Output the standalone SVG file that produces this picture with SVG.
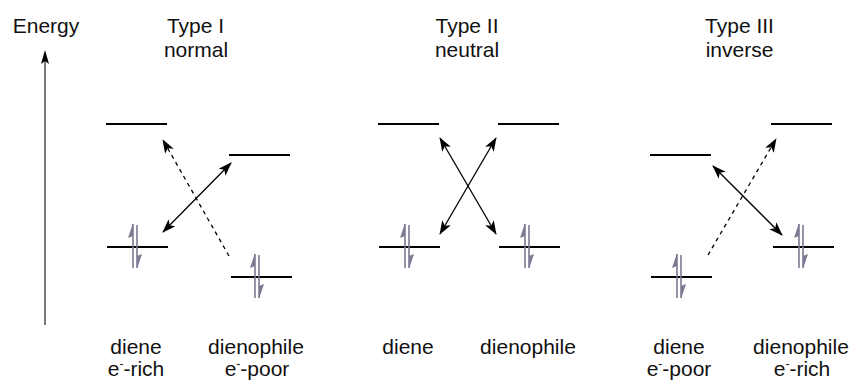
<svg xmlns="http://www.w3.org/2000/svg" width="850" height="380" viewBox="0 0 850 380">
<style>
text{font-family:"Liberation Sans",Arial,Helvetica,sans-serif;font-size:21px;fill:#111;text-anchor:middle}
.lvl{stroke:#000;stroke-width:2;fill:none}
.dbl{stroke:#000;stroke-width:1.3;fill:none;marker-start:url(#ah);marker-end:url(#ah)}
.dsh{stroke:#000;stroke-width:1.3;fill:none;stroke-dasharray:4 4;marker-end:url(#ah)}
.e{stroke:#7a7a92;stroke-width:1.6;fill:none}
.eh{fill:#7a7a92;stroke:none}
.sup{font-size:12px}
</style>
<defs>
<marker id="ah" viewBox="0 0 14 10" refX="13" refY="5" markerWidth="14" markerHeight="10" markerUnits="userSpaceOnUse" orient="auto-start-reverse">
<path d="M0,0 L14,5 L0,10 L3.5,5 z" fill="#000"/>
</marker>
<g id="pair">
<line class="e" x1="0" y1="-23" x2="0" y2="21"/>
<polygon class="eh" points="0,-24 -5,-9 0,-11"/>
<line class="e" x1="4" y1="-22" x2="4" y2="21"/>
<polygon class="eh" points="4,22 9,7 4,9"/>
</g>
</defs>
<rect width="850" height="380" fill="#fff"/>

<g id="axis">
<line x1="45" y1="325" x2="45" y2="60" stroke="#555" stroke-width="1.6"/>
<polygon points="45,50 49,64 45,61 41,64" fill="#000"/>
<text x="46" y="33">Energy</text>
</g>

<g id="typeI">
<text x="195.5" y="33">Type I</text>
<text x="196" y="57">normal</text>
<g id="I-diene-lumo"><line class="lvl" x1="106" y1="124" x2="167" y2="124"/></g>
<g id="I-diene-homo"><line class="lvl" x1="107" y1="247" x2="168" y2="247"/><use href="#pair" x="133" y="247"/></g>
<g id="I-dienophile-lumo"><line class="lvl" x1="229" y1="155" x2="290" y2="155"/></g>
<g id="I-dienophile-homo"><line class="lvl" x1="231" y1="277" x2="292" y2="277"/><use href="#pair" x="255" y="277"/></g>
<text x="136" y="354">diene</text>
<text x="136" y="376">e<tspan class="sup" dy="-8">-</tspan><tspan dy="8">-rich</tspan></text>
<text x="256" y="354">dienophile</text>
<text x="257" y="376">e<tspan class="sup" dy="-8">-</tspan><tspan dy="8">-poor</tspan></text>
</g>

<g id="typeII">
<text x="467" y="33">Type II</text>
<text x="467" y="57">neutral</text>
<g id="II-diene-lumo"><line class="lvl" x1="378" y1="124" x2="439" y2="124"/></g>
<g id="II-diene-homo"><line class="lvl" x1="379" y1="247" x2="440" y2="247"/><use href="#pair" x="405" y="247"/></g>
<g id="II-dienophile-lumo"><line class="lvl" x1="498" y1="124" x2="559" y2="124"/></g>
<g id="II-dienophile-homo"><line class="lvl" x1="499" y1="247" x2="560" y2="247"/><use href="#pair" x="525" y="247"/></g>
<text x="408" y="354">diene</text>
<text x="528" y="354">dienophile</text>
</g>

<g id="typeIII">
<text x="739.5" y="33">Type III</text>
<text x="739.5" y="57">inverse</text>
<g id="III-diene-lumo"><line class="lvl" x1="650" y1="155" x2="711" y2="155"/></g>
<g id="III-diene-homo"><line class="lvl" x1="651" y1="277" x2="712" y2="277"/><use href="#pair" x="677" y="277"/></g>
<g id="III-dienophile-lumo"><line class="lvl" x1="771" y1="124" x2="832" y2="124"/></g>
<g id="III-dienophile-homo"><line class="lvl" x1="773" y1="247" x2="834" y2="247"/><use href="#pair" x="799" y="247"/></g>
<text x="679" y="354">diene</text>
<text x="679" y="376">e<tspan class="sup" dy="-8">-</tspan><tspan dy="8">-poor</tspan></text>
<text x="801" y="354">dienophile</text>
<text x="802" y="376">e<tspan class="sup" dy="-8">-</tspan><tspan dy="8">-rich</tspan></text>
</g>

<g id="connectors">
<line class="dsh" x1="229" y1="256" x2="163" y2="140"/>
<line class="dbl" x1="163" y1="232" x2="231" y2="163"/>
<line class="dbl" x1="440" y1="138" x2="496" y2="234"/>
<line class="dbl" x1="496" y1="138" x2="440" y2="234"/>
<line class="dsh" x1="708" y1="255" x2="776" y2="139"/>
<line class="dbl" x1="713" y1="166" x2="782" y2="235"/>
</g>
</svg>
